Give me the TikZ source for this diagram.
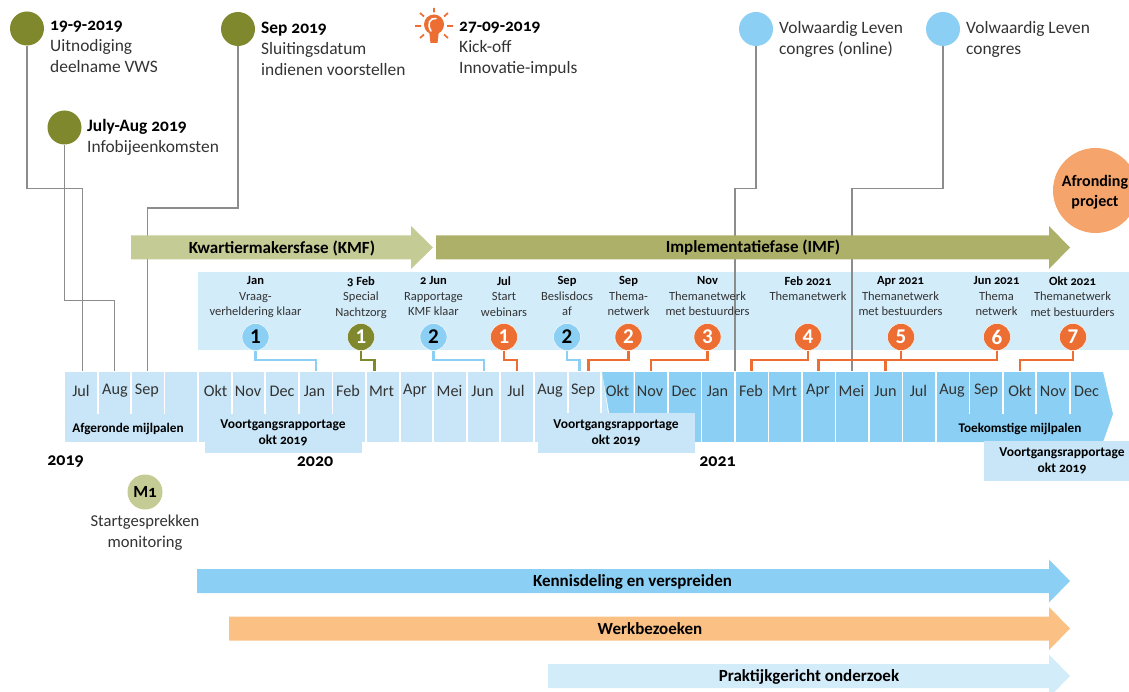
\documentclass[tikz,border=0pt]{standalone}
\usepackage{fontspec}
\setmainfont[Numbers=OldStyle]{Carlito}
\usetikzlibrary{arrows.meta}
\definecolor{lightcell}{HTML}{C8E6F8}
\definecolor{darkcell}{HTML}{8BD0F4}
\definecolor{band}{HTML}{D3ECFA}
\definecolor{olive}{HTML}{7F882D}
\definecolor{kmf}{HTML}{C5CB94}
\definecolor{imf}{HTML}{ADB069}
\definecolor{orng}{HTML}{EC6E33}
\definecolor{peach}{HTML}{F5A46C}
\definecolor{lpeach}{HTML}{FAC084}
\definecolor{greyline}{HTML}{8C8C8C}
\definecolor{txt}{HTML}{333333}
\newcommand{\fs}[1]{\fontsize{#1}{#1}\selectfont}
\newcommand{\bk}[1]{\textbf{\textcolor{black}{#1}}}
\newcommand{\nm}[1]{\addfontfeatures{Numbers=Lining}#1}
\tikzset{
  x=1pt,y=-1pt,
  greyl/.style={draw=greyline,line width=1.3pt},
  conn/.style={line width=2.8pt},
  pin/.style={circle,minimum size=34pt,inner sep=0pt,fill=#1},
  numc/.style={circle,minimum size=27pt,inner sep=0pt,draw=white,line width=.4pt,fill=#1,font=\fs{21}\bfseries},
  month/.style={anchor=center,font=\fs{16.2},text=txt},
  msg/.style={align=left,anchor=north west,inner sep=0pt,font=\fs{17.4},text=txt},
  mil/.style={align=center,anchor=north,inner sep=0pt,font=\fs{12.5},text=txt},
  blabel/.style={font=\fs{13.5}\bfseries,align=center,inner sep=0pt,text=black},
  arrlabel/.style={font=\fs{17}\bfseries,inner sep=0pt,text=black},
  year/.style={font=\fs{18}\bfseries,inner sep=0pt,text=black}
}
\newcommand{\barrow}[5]{% x0,xh,xt,ymid,colour
  \fill[#5] (#1,#4-12) -- (#2,#4-12) -- (#2,#4-21.5) -- (#3,#4) -- (#2,#4+21.5) -- (#2,#4+12) -- (#1,#4+12) -- cycle;}
\begin{document}
\begin{tikzpicture}
\useasboundingbox (0,0) rectangle (1129,692);
\clip (0,0) rectangle (1129,692);
% band
\fill[band] (198,272) rectangle (1129,350);
% cells
\fill[lightcell] (65,372) rectangle (197,442);
\fill[lightcell] (199,372) rectangle (365,442);
\fill[lightcell] (205,442) rectangle (362,453);
\foreach \a/\b in {367/399,400.5/432,434/465.5,467.5/499,501/533,535/566.5,568.5/600}{\fill[lightcell] (\a,372) rectangle (\b,442);}
\fill[lightcell] (602,372) -- (608,413) -- (608,442) -- (602,442) -- cycle;
\fill[darkcell] (602,372) -- (633.5,372) -- (633.5,442) -- (610,442) -- (610,418) -- cycle;
\foreach \a/\b in {635/667,669/700.5,702/734,736/767.5,769/801,803/834.5,836/868,870/901.5,903/935}{\fill[darkcell] (\a,372) rectangle (\b,442);}
\fill[darkcell] (937,372) -- (1103,372) -- (1113,414) -- (1103,442) -- (937,442) -- cycle;
% separators in the merged groups
\foreach \x in {98,131,164.5,232,265,299,332.5}{\draw[white,line width=1.5pt] (\x,372) -- (\x,413.5);}
\foreach \x in {969.5,1003,1036,1070}{\draw[white,line width=1.5pt] (\x,372) -- (\x,413.5);}
% report boxes
\fill[lightcell] (535,413) rectangle (695,442);
\fill[lightcell] (538,442) rectangle (695,453);
\fill[lightcell] (984,441) rectangle (1129,481);
% month labels
\foreach \t/\x in {Jul/81,Aug/115,Sep/147,Okt/215.5,Nov/248,Dec/282,Jan/314.5,Feb/348,Mrt/381.5,Apr/415,Mei/449.5,Jun/482.5,Jul/516,Aug/550,Sep/583,Okt/617.5,Nov/650,Dec/684,Jan/717.5,Feb/751,Mrt/784.5,Apr/818,Mei/851.5,Jun/885.5,Jul/918.5,Aug/952,Sep/986,Okt/1020,Nov/1053,Dec/1086.5}{\node[month] at (\x,391) {\t};}
\node[blabel,font=\fs{13.2}\bfseries] (afg) at (128,429) {Afgeronde mijlpalen};
\node[blabel,font=\fs{13.2}\bfseries] (toe) at (1020,429) {Toekomstige mijlpalen};
\node[blabel] (vr1) at (283,433) {Voortgangsrapportage\\[3pt]okt 2019};
\node[blabel] (vr2) at (616,433) {Voortgangsrapportage\\[3pt]okt 2019};
\node[blabel] (vr3) at (1062,461) {Voortgangsrapportage\\[3pt]okt 2019};
\node[year] (y19) at (65.5,462) {2019};
\node[year] (y20) at (315,462) {2020};
\node[year] (y21) at (717.5,462) {2021};
% anchor points on the timeline
\foreach \n/\x in {a/82.5,b/114.5,c/147.5,d/735,e/852}{\coordinate (t\n) at (\x,371);}
% pins
\node[pin=olive] (p1) at (27,28.5) {};
\node[pin=olive] (p2) at (64.5,127.5) {};
\node[pin=olive] (p3) at (238,29) {};
\node[pin=darkcell] (p4) at (756,29) {};
\node[pin=darkcell] (p5) at (943,29) {};
\draw[greyl] (p1.south) |- (82.5,188.5) -- (ta);
\draw[greyl] (p2.south) |- (114.5,300.5) -- (tb);
\draw[greyl] (p3.south) |- (147.5,208) -- (tc);
\draw[greyl] (p4.south) |- (735,188.5) -- (td);
\draw[greyl] (p5.south) |- (852,188.5) -- (te);
\barrow{131}{411}{433}{247.5}{kmf}
\barrow{436}{1049}{1070}{247.5}{imf}
\node[arrlabel] (kmft) at (282,248) {Kwartiermakersfase (KMF)};
\node[arrlabel] (imft) at (753,248) {Implementatiefase (IMF)};
% pin texts
\node[msg] (m1) at (50,21) {\bk{19-9-2019}\\[3.6pt]Uitnodiging\\[3.6pt]deelname VWS};
\node[msg] (m2) at (87,119) {\bk{July-Aug 2019}\\[3.6pt]Infobijeenkomsten};
\node[msg] (m3) at (261,21.5) {\bk{Sep 2019}\\[3.6pt]Sluitingsdatum\\[3.6pt]indienen voorstellen};
\node[msg] (m4) at (459,21.5) {\bk{27-09-2019}\\[3.6pt]Kick-off\\[3.6pt]Innovatie-impuls};
\node[msg] (m5) at (779,21.5) {Volwaardig Leven\\[3.6pt]congres (online)};
\node[msg] (m6) at (966,21.5) {Volwaardig Leven\\[3.6pt]congres};
% bulb
\begin{scope}[orng]
\fill (434,24.5) circle (10);
\fill (429,30) -- (439,30) -- (437.5,43) -- (430.5,43) -- cycle;
\draw[white,line width=1.6pt,line cap=round] (436,18.5) .. controls (430,17.5) and (426.5,24) .. (431,31);
\draw[line width=1.7pt] (434,8) -- (434,12.5) (420,13) -- (424,16.5) (448,13) -- (444,16.5)
 (415,26) -- (421,26) (447,26) -- (453,26) (420,38) -- (424,34.5) (448,38) -- (444,34.5);
\end{scope}
% milestone labels
\node[mil] (l1) at (255.5,276.5) {\bk{Jan}\\[3pt]Vraag-\\[3pt]verheldering klaar};
\node[mil] (l2) at (361,276.5) {\bk{3 Feb}\\[3pt]Special\\[3pt]Nachtzorg};
\node[mil] (l3) at (433.5,276.5) {\bk{2 Jun}\\[3pt]Rapportage\\[3pt]KMF klaar};
\node[mil] (l4) at (504,276.5) {\bk{Jul}\\[3pt]Start\\[3pt]webinars};
\node[mil] (l5) at (567,276.5) {\bk{Sep}\\[3pt]Beslisdocs\\[3pt]af};
\node[mil] (l6) at (628.5,276.5) {\bk{Sep}\\[3pt]Thema-\\[3pt]netwerk};
\node[mil] (l7) at (707.5,276.5) {\bk{Nov}\\[3pt]Themanetwerk\\[3pt]met bestuurders};
\node[mil] (l8) at (808,276.5) {\bk{Feb 2021}\\[3pt]Themanetwerk};
\node[mil] (l9) at (900.5,276.5) {\bk{Apr 2021}\\[3pt]Themanetwerk\\[3pt]met bestuurders};
\node[mil] (l10) at (996.5,276.5) {\bk{Jun 2021}\\[3pt]Thema\\[3pt]netwerk};
\node[mil] (l11) at (1072.5,276.5) {\bk{Okt 2021}\\[3pt]Themanetwerk\\[3pt]met bestuurders};
% numbered circles
\node[numc=darkcell,text=black] (n1) at (255.5,337) {\nm{1}};
\node[numc=olive,text=white] (n2) at (361,337) {\nm{1}};
\node[numc=darkcell,text=black] (n3) at (433.5,337) {\nm{2}};
\node[numc=orng,text=white] (n4) at (504,337) {\nm{1}};
\node[numc=darkcell,text=black] (n5) at (567,337) {\nm{2}};
\node[numc=orng,text=white] (n6) at (628.5,337) {\nm{2}};
\node[numc=orng,text=white] (n7) at (707.5,337) {\nm{3}};
\node[numc=orng,text=white] (n8) at (808,337) {\nm{4}};
\node[numc=orng,text=white] (n9) at (901,337) {\nm{5}};
\node[numc=orng,text=white] (n10) at (997,337) {\nm{6}};
\node[numc=orng,text=white] (n11) at (1073,337) {\nm{7}};
% connectors
\begin{scope}[conn,miter limit=10]
\draw[darkcell] (n1.south) |- (316,360) -- (316,371);
\draw[olive] (n2.south) |- (374.5,360) -- (374.5,371);
\draw[darkcell] (n3.south) |- (484,360) -- (484,371);
\draw[orng] (n4.south) |- (517,360) -- (517,371);
\draw[darkcell] (n5.south) |- (579.5,360) -- (579.5,371);
\draw[orng] (n6.south) |- (588.5,360) -- (588.5,371);
\draw[orng] (n7.south) |- (651,360) -- (651,371);
\draw[orng] (n8.south) |- (751.5,360) -- (751.5,371);
\draw[orng] (n9.south) |- (818.5,360) -- (818.5,371);
\draw[orng] (n10.south) |- (885.5,360) -- (885.5,371);
\draw[orng] (n11.south) |- (1020,360) -- (1020,371);
\end{scope}
% finish
\node[circle,fill=peach,minimum size=85pt,inner sep=0pt] (fin) at (1095.5,190.5) {};
\node[font=\fs{16}\bfseries,align=center,inner sep=0pt,text=black] (fint) at (1095,192.5) {Afronding\\[4pt]project};
% M1
\node[circle,fill=kmf,minimum size=35pt,inner sep=0pt,font=\fs{17}\bfseries,text=black] (m1c) at (145,492) {M1};
\node[align=center,inner sep=0pt,font=\fs{16.6},text=txt] (m1t) at (145,532.5) {Startgesprekken\\[5pt]monitoring};
% bottom arrows
\barrow{197}{1049}{1070}{581}{darkcell}
\barrow{229}{1049}{1070}{628.5}{lpeach}
\barrow{548}{1049}{1070}{676}{band}
\node[arrlabel] (k) at (632.5,581.5) {Kennisdeling en verspreiden};
\node[arrlabel] (w) at (650,628.5) {Werkbezoeken};
\node[arrlabel] (pr) at (809,677) {Praktijkgericht onderzoek};
\end{tikzpicture}
\end{document}
